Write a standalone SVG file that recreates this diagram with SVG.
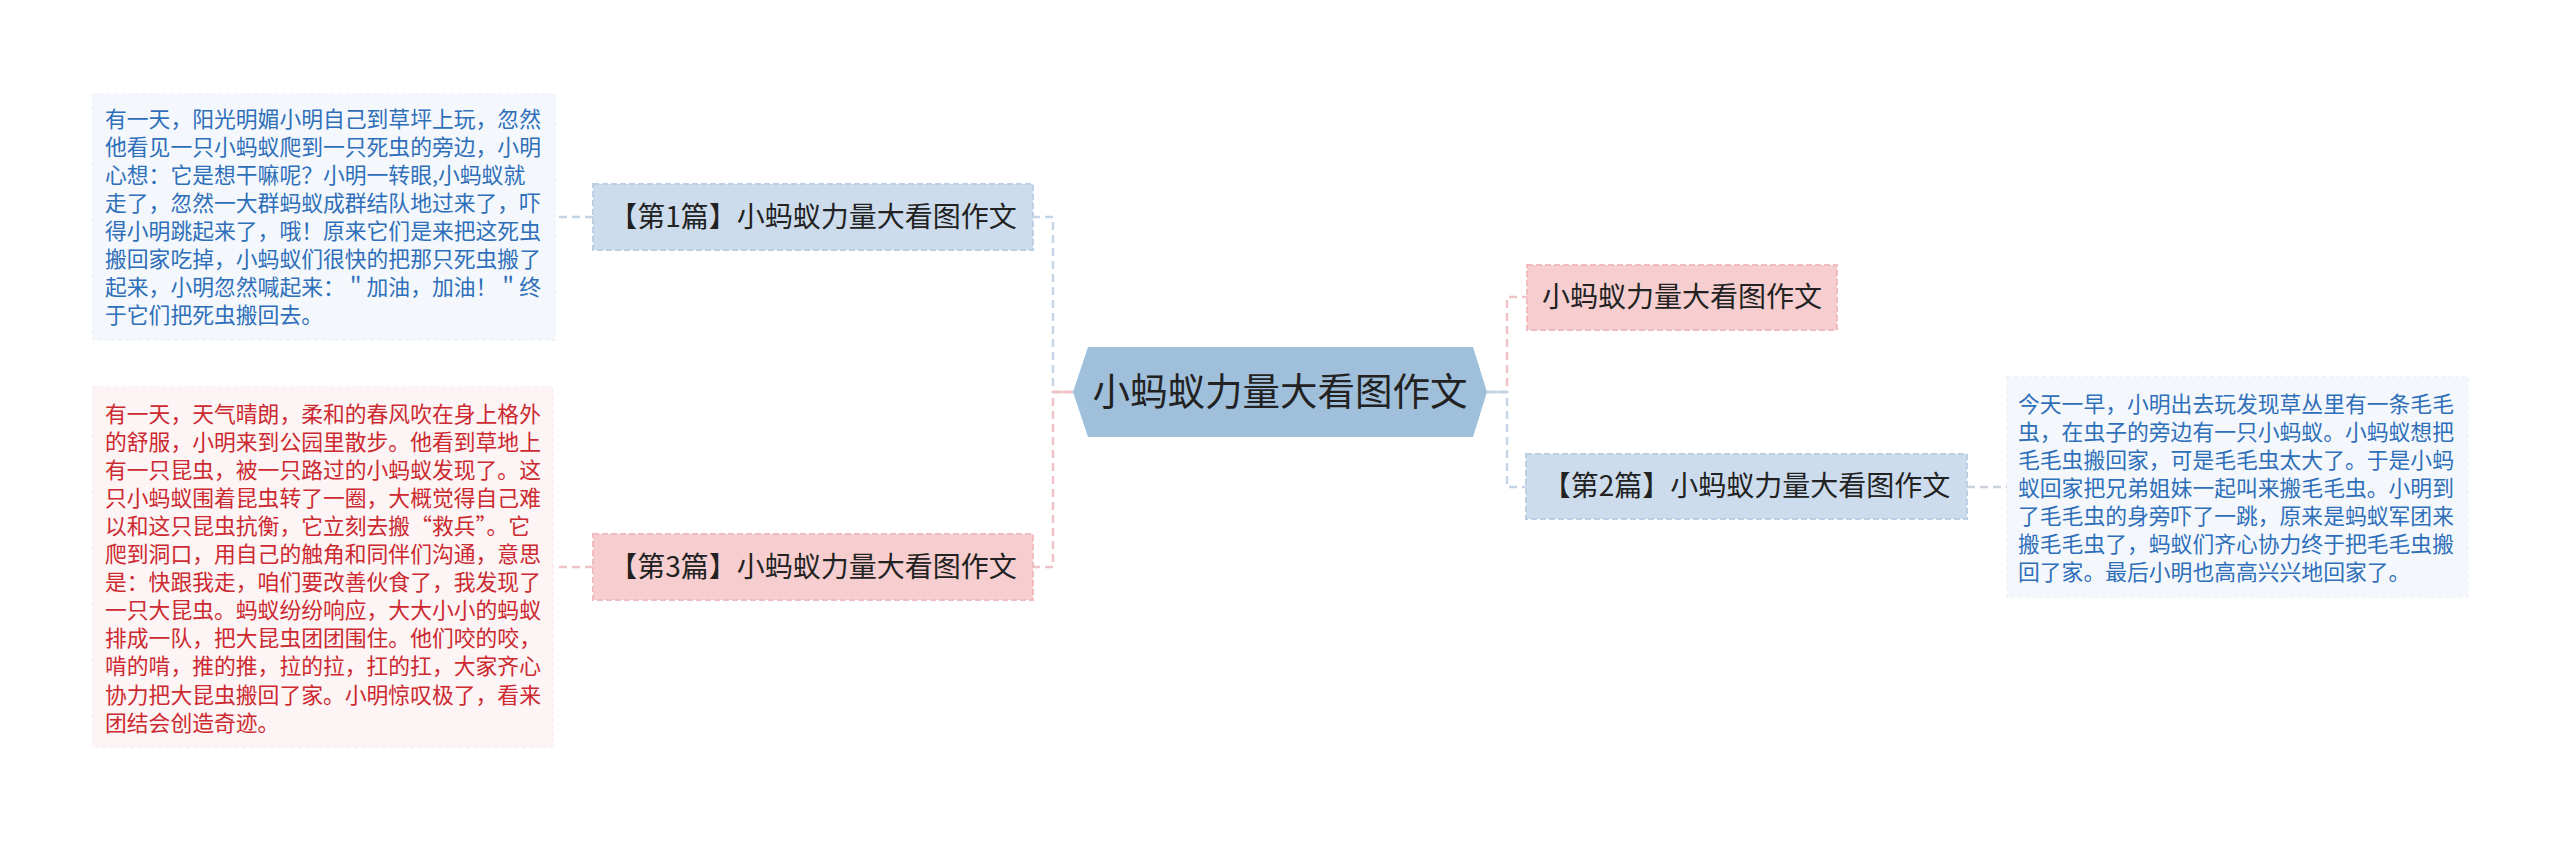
<svg xmlns="http://www.w3.org/2000/svg" width="2560" height="841" viewBox="0 0 2560 841">
<style>
.bg{fill:#ffffff}
.conn{fill:none;stroke-width:2.5;stroke-dasharray:8 5}
.cb{stroke:#c5d5e6}
.cp{stroke:#f0c3c6}
.cg{stroke:#c9d2dc}
.topic{stroke-width:2;stroke-dasharray:6 3}
.tb{fill:#ccdcec;stroke:#bccfe4}
.tp{fill:#f6cecf;stroke:#efbcbf}
.note{stroke-width:1.5;stroke-dasharray:4 3}
.nb{fill:#f4f8fc;stroke:#edf2f8}
.np{fill:#fdf4f5;stroke:#fbeced}
.t{font-family:"Noto Sans CJK SC","Liberation Sans",sans-serif;}
.tt{font-size:28px;fill:#222222}
.main{font-size:37.5px;fill:#222222}
.nt{font-size:21.8px}
.blue{fill:#2f6fba}
.red{fill:#cc2a30}
</style>
<rect class="bg" x="0" y="0" width="2560" height="841"/>
<g id="connectors">
  <path class="conn cb" d="M1073,392 H1053 V217 H1033"/>
  <path class="conn cp" d="M1073,392 H1053 V567 H1033"/>
  <path class="conn cp" d="M1487,392 H1507 V297 H1527"/>
  <path class="conn cb" d="M1487,392 H1507 V487 H1526"/>
  <path class="conn cb" d="M593,217 H555"/>
  <path class="conn cp" d="M593,567 H553"/>
  <path class="conn cg" d="M1967,487 H2007"/>
  <path d="M1053,392 H1073" stroke="#f0c3c6" stroke-width="2.5"/>
  <path d="M1487,392 H1507" stroke="#c5d5e6" stroke-width="2.5"/>
</g>
<g id="center">
  <polygon points="1073,392 1088,347 1473,347 1487,392 1473,437 1088,437" fill="#a0bfdb"/>
  <text class="t main" x="1280" y="405" text-anchor="middle">小蚂蚁力量大看图作文</text>
</g>
<g id="topic1">
  <rect class="topic tb" x="593" y="184" width="440" height="66"/>
  <text class="t tt" x="813" y="227" text-anchor="middle">【第1篇】小蚂蚁力量大看图作文</text>
</g>
<g id="topic3">
  <rect class="topic tp" x="593" y="534" width="440" height="66"/>
  <text class="t tt" x="813" y="577" text-anchor="middle">【第3篇】小蚂蚁力量大看图作文</text>
</g>
<g id="topicR1">
  <rect class="topic tp" x="1527" y="265" width="310" height="65"/>
  <text class="t tt" x="1682" y="307" text-anchor="middle">小蚂蚁力量大看图作文</text>
</g>
<g id="topic2">
  <rect class="topic tb" x="1526" y="454" width="441" height="65"/>
  <text class="t tt" x="1746.5" y="496" text-anchor="middle">【第2篇】小蚂蚁力量大看图作文</text>
</g>
<g id="note1">
  <rect class="note nb" x="93" y="94" width="462" height="246"/>
  <text class="t nt blue" x="105" y="126.5">
    <tspan x="105" dy="0">有一天，阳光明媚小明自己到草坪上玩，忽然</tspan>
    <tspan x="105" dy="28.1">他看见一只小蚂蚁爬到一只死虫的旁边，小明</tspan>
    <tspan x="105" dy="28.1">心想：它是想干嘛呢？小明一转眼,小蚂蚁就</tspan>
    <tspan x="105" dy="28.1">走了，忽然一大群蚂蚁成群结队地过来了，吓</tspan>
    <tspan x="105" dy="28.1">得小明跳起来了，哦！原来它们是来把这死虫</tspan>
    <tspan x="105" dy="28.1">搬回家吃掉，小蚂蚁们很快的把那只死虫搬了</tspan>
    <tspan x="105" dy="28.1">起来，小明忽然喊起来：＂加油，加油！＂终</tspan>
    <tspan x="105" dy="28.1">于它们把死虫搬回去。</tspan>
  </text>
</g>
<g id="note3">
  <rect class="note np" x="93" y="387" width="460" height="360"/>
  <text class="t nt red" x="105" y="421.5">
    <tspan x="105" dy="0">有一天，天气晴朗，柔和的春风吹在身上格外</tspan>
    <tspan x="105" dy="28.1">的舒服，小明来到公园里散步。他看到草地上</tspan>
    <tspan x="105" dy="28.1">有一只昆虫，被一只路过的小蚂蚁发现了。这</tspan>
    <tspan x="105" dy="28.1">只小蚂蚁围着昆虫转了一圈，大概觉得自己难</tspan>
    <tspan x="105" dy="28.1">以和这只昆虫抗衡，它立刻去搬“救兵”。它</tspan>
    <tspan x="105" dy="28.1">爬到洞口，用自己的触角和同伴们沟通，意思</tspan>
    <tspan x="105" dy="28.1">是：快跟我走，咱们要改善伙食了，我发现了</tspan>
    <tspan x="105" dy="28.1">一只大昆虫。蚂蚁纷纷响应，大大小小的蚂蚁</tspan>
    <tspan x="105" dy="28.1">排成一队，把大昆虫团团围住。他们咬的咬，</tspan>
    <tspan x="105" dy="28.1">啃的啃，推的推，拉的拉，扛的扛，大家齐心</tspan>
    <tspan x="105" dy="28.1">协力把大昆虫搬回了家。小明惊叹极了，看来</tspan>
    <tspan x="105" dy="28.1">团结会创造奇迹。</tspan>
  </text>
</g>
<g id="note2">
  <rect class="note nb" x="2007" y="377" width="461" height="220"/>
  <text class="t nt blue" x="2018" y="411.5">
    <tspan x="2018" dy="0">今天一早，小明出去玩发现草丛里有一条毛毛</tspan>
    <tspan x="2018" dy="28.1">虫，在虫子的旁边有一只小蚂蚁。小蚂蚁想把</tspan>
    <tspan x="2018" dy="28.1">毛毛虫搬回家，可是毛毛虫太大了。于是小蚂</tspan>
    <tspan x="2018" dy="28.1">蚁回家把兄弟姐妹一起叫来搬毛毛虫。小明到</tspan>
    <tspan x="2018" dy="28.1">了毛毛虫的身旁吓了一跳，原来是蚂蚁军团来</tspan>
    <tspan x="2018" dy="28.1">搬毛毛虫了，蚂蚁们齐心协力终于把毛毛虫搬</tspan>
    <tspan x="2018" dy="28.1">回了家。最后小明也高高兴兴地回家了。</tspan>
  </text>
</g>
</svg>
